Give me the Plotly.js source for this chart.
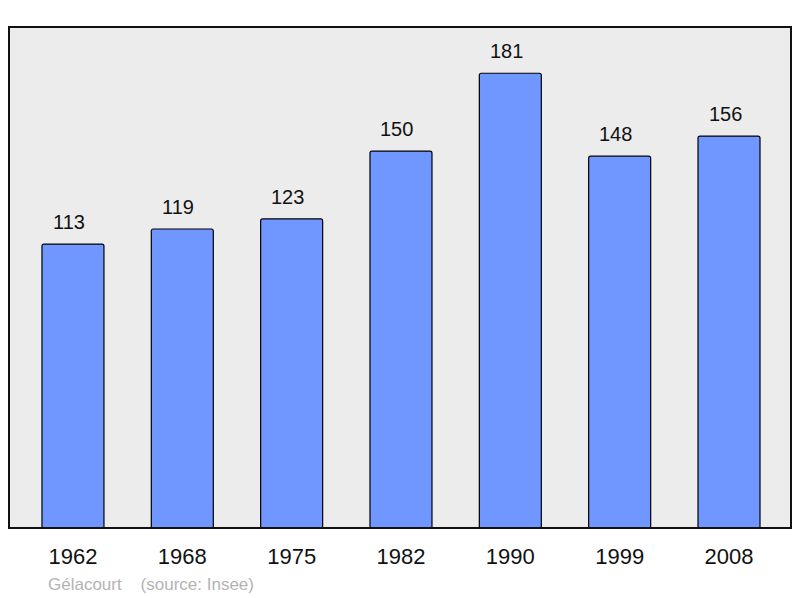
<!DOCTYPE html>
<html>
<head>
<meta charset="utf-8">
<script src="https://cdn.plot.ly/plotly-3.0.1.min.js"></script>
<style>html,body{margin:0;padding:0;background:#fff;}#chart{width:800px;height:598px;}</style>
</head>
<body>
<div id="chart"></div>
<script>
var years = ['1962', '1968', '1975', '1982', '1990', '1999', '2008'];
var population = [113, 119, 123, 150, 181, 148, 156];
var sourceText = 'Gélacourt    (source: Insee)';

var annotations = years.map(function (y, i) {
  return {
    x: i, y: population[i], xref: 'x', yref: 'y',
    text: String(population[i]), showarrow: false,
    yanchor: 'middle', yshift: 22, xshift: -4,
    font: {family: 'Liberation Sans, Arial, sans-serif', size: 20, color: '#111'}
  };
});
annotations.push({
  xref: 'paper', yref: 'paper', x: 37 / 782, y: -56 / 501,
  xanchor: 'left', yanchor: 'middle', showarrow: false,
  text: sourceText,
  font: {family: 'Liberation Sans, Arial, sans-serif', size: 17, color: '#b3b3b3'}
});

var trace = {
  type: 'bar', x: years, y: population,
  width: 0.567,
  marker: {color: '#7096ff', line: {color: '#000', width: 1.2}, cornerradius: 2},
  hoverinfo: 'none'
};

var layout = {
  width: 800, height: 598,
  margin: {l: 9, r: 9, t: 27, b: 70},
  paper_bgcolor: '#ffffff', plot_bgcolor: '#ececec',
  showlegend: false,
  xaxis: {
    type: 'category', range: [-0.585, 6.567], showgrid: false, zeroline: false,
    showline: false, ticks: '',
    tickfont: {family: 'Liberation Sans, Arial, sans-serif', size: 22, color: '#111'},
    ticklabelstandoff: 13
  },
  yaxis: {range: [0, 199.4], showgrid: false, zeroline: false, showticklabels: false, ticks: '', showline: false},
  shapes: [{
    type: 'rect', xref: 'paper', yref: 'paper', x0: 0, x1: 1, y0: 0, y1: 1,
    line: {color: '#111', width: 2}, fillcolor: 'rgba(0,0,0,0)', layer: 'above'
  }],
  annotations: annotations
};

Plotly.newPlot('chart', [trace], layout, {displayModeBar: false, staticPlot: true});
</script>
</body>
</html>
